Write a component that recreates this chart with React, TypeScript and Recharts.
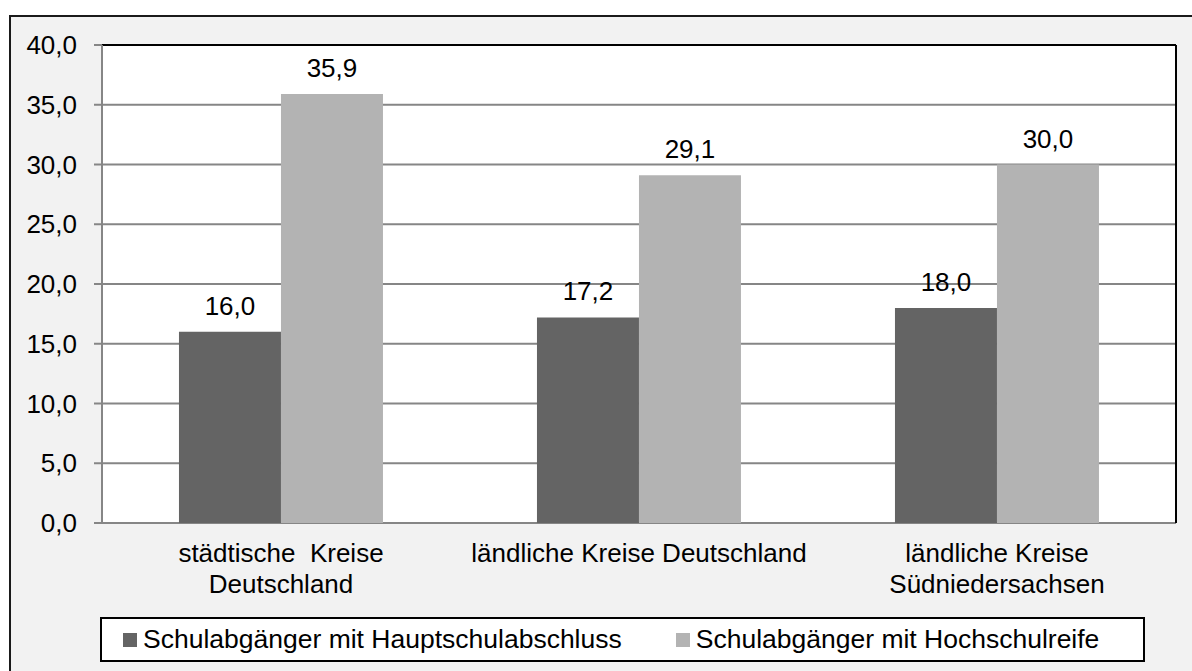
import React from "react";
import {
  BarChart,
  Bar,
  XAxis,
  YAxis,
  CartesianGrid,
  LabelList,
  Legend,
  ReferenceLine,
} from "recharts";

const categories = [
  "städtische  Kreise\nDeutschland",
  "ländliche Kreise Deutschland",
  "ländliche Kreise\nSüdniedersachsen",
];
const hauptschulabschluss = [16.0, 17.2, 18.0];
const hochschulreife = [35.9, 29.1, 30.0];
const seriesNames = [
  "Schulabgänger mit Hauptschulabschluss",
  "Schulabgänger mit Hochschulreife",
];
const yTicks = [0, 5, 10, 15, 20, 25, 30, 35, 40];
const boundaryTicks = [0, 1, 2, 3];

const COLORS = ["#646464", "#b3b3b3"];
const FONT = "'Liberation Sans', Arial, sans-serif";
const FS = 26;

const data = categories.map((name, i) => ({
  name,
  idx: i + 0.5,
  haupt: hauptschulabschluss[i],
  hoch: hochschulreife[i],
}));

const fmt = (v: any) => Number(v).toFixed(1).replace(".", ",");

const XTick = (props: any) => {
  const { x, y, payload } = props;
  const lines = String(payload.value).split("\n");
  return (
    <text
      x={x}
      y={y}
      textAnchor="middle"
      fontSize={FS}
      fontFamily={FONT}
      fill="#000"
      style={{ whiteSpace: "pre" }}
    >
      {lines.map((l, i) => (
        <tspan key={i} x={x} dy={i === 0 ? 39 : 31}>
          {l}
        </tspan>
      ))}
    </text>
  );
};

const LegendBox = () => (
  <div
    style={{
      width: 1041,
      height: 41,
      border: "2px solid #000",
      background: "#fff",
      display: "flex",
      alignItems: "center",
      fontFamily: FONT,
      fontSize: 26.5,
      color: "#000",
      boxSizing: "content-box",
    }}
  >
    {seriesNames.map((n, i) => (
      <div
        key={n}
        style={{
          display: "flex",
          alignItems: "center",
          marginLeft: i === 0 ? 21 : 54,
        }}
      >
        <span
          style={{
            display: "inline-block",
            width: 14,
            height: 14,
            background: COLORS[i],
            marginRight: 6,
          }}
        />
        <span>{n}</span>
      </div>
    ))}
  </div>
);

export default function App() {
  return (
    <div
      style={{
        position: "absolute",
        left: 0,
        top: 0,
        width: 1192,
        height: 671,
        overflow: "hidden",
        background: "#fff",
      }}
    >
      <div
        style={{
          position: "absolute",
          left: 9,
          top: 15,
          width: 1220,
          height: 700,
          border: "2px solid #1a1a1a",
          background: "#f2f2f2",
        }}
      />
      <div style={{ position: "absolute", left: 0, top: 0 }}>
        <BarChart
          width={1192}
          height={671}
          data={data}
          margin={{ top: 45, right: 0, left: 0, bottom: 88 }}
          barCategoryGap="21.5%"
          barGap={0}
        >
          <CartesianGrid
            vertical={false}
            stroke="#868686"
            strokeWidth={2}
            fill="#fff"
            yAxisId="left"
          />
          <XAxis
            xAxisId="b"
            type="number"
            dataKey="idx"
            domain={[0, 3]}
            ticks={boundaryTicks}
            tickFormatter={() => ""}
            height={0}
            tickSize={8}
            axisLine={{ stroke: "#868686", strokeWidth: 2 }}
            tickLine={{ stroke: "#868686", strokeWidth: 2 }}
          />
          <XAxis
            dataKey="name"
            height={60}
            tickLine={false}
            axisLine={false}
            tickSize={0}
            tickMargin={0}
            interval={0}
            tick={<XTick />}
          />
          <YAxis
            yAxisId="left"
            width={102}
            domain={[0, 40]}
            ticks={yTicks}
            tickFormatter={fmt}
            tickSize={8}
            tickMargin={17}
            axisLine={{ stroke: "#868686", strokeWidth: 2 }}
            tickLine={{ stroke: "#868686", strokeWidth: 2 }}
            tick={{ fill: "#000", fontSize: FS, fontFamily: FONT }}
          />
          <YAxis
            yAxisId="right"
            orientation="right"
            width={16}
            domain={[0, 40]}
            tick={false}
            tickLine={false}
            axisLine={{ stroke: "#000", strokeWidth: 2 }}
          />
          <ReferenceLine
            yAxisId="left"
            y={40}
            stroke="#000"
            strokeWidth={2}
          />
          <Bar
            yAxisId="left"
            dataKey="haupt"
            name={seriesNames[0]}
            fill={COLORS[0]}
            isAnimationActive={false}
          >
            <LabelList
              dataKey="haupt"
              position="top"
              offset={17}
              formatter={fmt}
              fill="#000"
              fontSize={FS}
              fontFamily={FONT}
            />
          </Bar>
          <Bar
            yAxisId="left"
            dataKey="hoch"
            name={seriesNames[1]}
            fill={COLORS[1]}
            isAnimationActive={false}
          >
            <LabelList
              dataKey="hoch"
              position="top"
              offset={17}
              formatter={fmt}
              fill="#000"
              fontSize={FS}
              fontFamily={FONT}
            />
          </Bar>
          <Legend
            verticalAlign="middle"
            align="center"
            layout="horizontal"
            content={<LegendBox />}
            wrapperStyle={{ position: "absolute", left: 100, top: 617, width: 1045 }}
          />
        </BarChart>
      </div>
    </div>
  );
}
